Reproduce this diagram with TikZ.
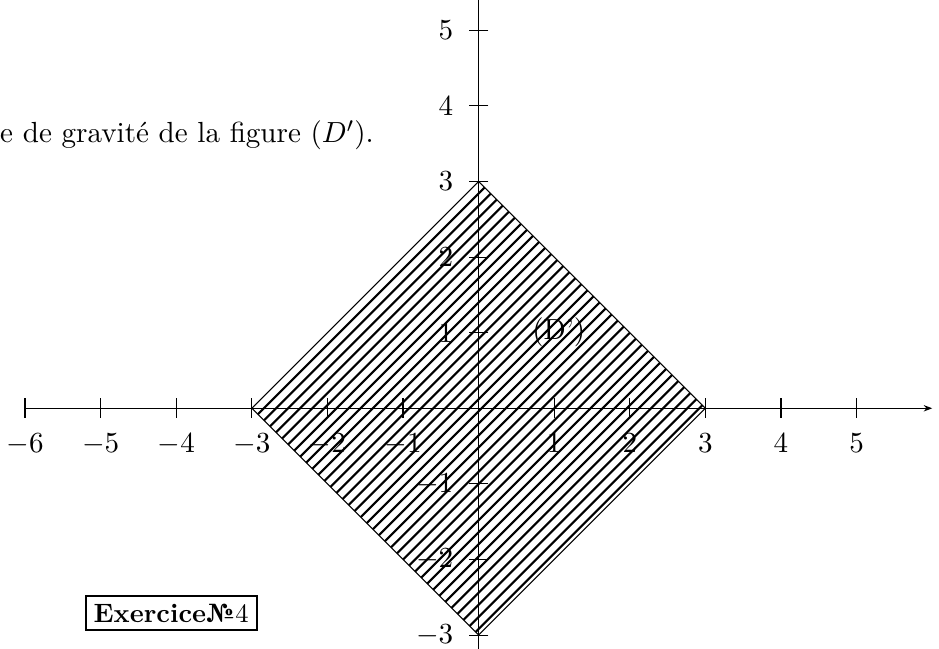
\documentclass[11pt,tikz,border=0pt]{standalone}
\usetikzlibrary{arrows.meta}

\begin{document}
\begin{tikzpicture}[
  hatchline/.style={line width=0.8pt},
  tickmark/.style={thin},
  framed/.style={draw, line width=0.8pt, inner sep=3pt, font=\fontsize{10}{12}\selectfont},
]
  \useasboundingbox (-6.331,-3.184) rectangle (6.090,5.401);
  \clip (-6.331,-3.184) rectangle (6.090,5.401);

  % Domain (D')
  \coordinate (E) at (3,0);
  \coordinate (N) at (0,3);
  \coordinate (W) at (-3,0);
  \coordinate (S) at (0,-3);
  \begin{scope}
    \clip (E) -- (N) -- (W) -- (S) -- cycle;
    \foreach \c in {2.84,2.68,...,-3}
      \draw[hatchline] (-3,-3+\c) -- (3,3+\c);
  \end{scope}
  \draw (E) -- (N) -- (W) -- (S) -- cycle;
  \node (dname) at (1.06,1) {(D')};

  % Axes
  \coordinate (xmin) at (-6,0);
  \coordinate (xmax) at (6,0);
  \coordinate (ymin) at (0,-3.4);
  \coordinate (ymax) at (0,5.6);
  \draw[-{Stealth[length=3.2pt,width=2.4pt]}] (xmin) -- (xmax);
  \draw (ymin) -- (ymax);
  \foreach \x in {-6,...,-1,1,2,...,5} {
    \draw[tickmark] (\x,0.13) -- (\x,-0.13);
    \node[below] (xl\x) at (\x,-0.2) {$\x$};
  }
  \foreach \y in {-3,-2,-1,1,2,...,5} {
    \draw[tickmark] (0.13,\y) -- (-0.13,\y);
    \node[left] (yl\y) at (-0.2,\y) {$\y$};
  }

  % Texts
  \node[anchor=base west, inner sep=0pt] (consigne) at (-6.335,3.513)
    {e de gravité de la figure $(D')$.};
  \node[framed, anchor=east] (exo) at (-2.922,-2.708) {\textbf{Exercice№}4};
\end{tikzpicture}
\end{document}
